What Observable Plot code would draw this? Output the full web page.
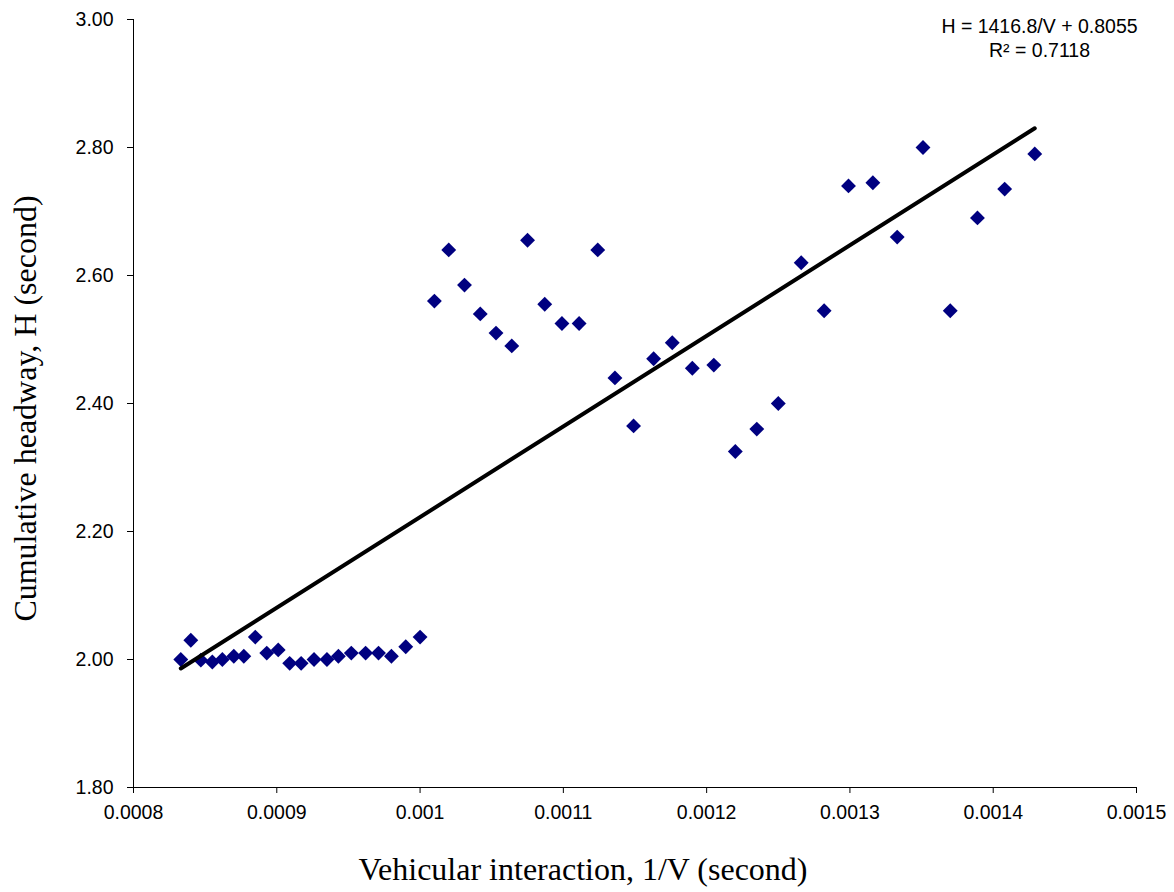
<!DOCTYPE html>
<html>
<head>
<meta charset="utf-8">
<script src="https://cdn.jsdelivr.net/npm/d3@7"></script>
<script src="https://cdn.jsdelivr.net/npm/@observablehq/plot@0.6"></script>
<style>
  html, body { margin: 0; padding: 0; background: #fff; }
  #chart svg { display: block; }
</style>
</head>
<body>
<div id="chart"></div>
<script>
// Vehicular interaction 1/V (second)
const xValues = [
  0.000833, 0.000840, 0.000847, 0.000855, 0.000862, 0.000870, 0.000877, 0.000885,
  0.000893, 0.000901, 0.000909, 0.000917, 0.000926, 0.000935, 0.000943, 0.000952,
  0.000962, 0.000971, 0.000980, 0.000990, 0.001000,
  0.001010, 0.001020, 0.001031, 0.001042, 0.001053, 0.001064, 0.001075, 0.001087,
  0.001099, 0.001111, 0.001124, 0.001136, 0.001149, 0.001163, 0.001176, 0.001190,
  0.001205, 0.001220, 0.001235, 0.001250, 0.001266, 0.001282, 0.001299, 0.001316,
  0.001333, 0.001351, 0.001370, 0.001389, 0.001408, 0.001429
];
// Cumulative headway H (second)
const hValues = [
  2.000, 2.030, 1.999, 1.996, 2.000, 2.005, 2.005, 2.035, 2.010, 2.015, 1.994,
  1.994, 2.000, 2.000, 2.005, 2.010, 2.010, 2.010, 2.005, 2.020, 2.035,
  2.560, 2.640, 2.585, 2.540, 2.510, 2.490, 2.655, 2.555, 2.525, 2.525, 2.640,
  2.440, 2.365, 2.470, 2.495, 2.455, 2.460, 2.325, 2.360, 2.400, 2.620, 2.545,
  2.740, 2.745, 2.660, 2.800, 2.545, 2.690, 2.735, 2.790
];
// Linear trendline endpoints: H = 1416.8/V + 0.8055
const trendX = [0.000833, 0.001429];
const trendH = [1.986, 2.830];

const xTicks = [0.0008, 0.0009, 0.001, 0.0011, 0.0012, 0.0013, 0.0014, 0.0015];
const xTickLabels = ["0.0008", "0.0009", "0.001", "0.0011", "0.0012", "0.0013", "0.0014", "0.0015"];
const yTicks = [1.8, 2.0, 2.2, 2.4, 2.6, 2.8, 3.0];
const yTickLabels = ["1.80", "2.00", "2.20", "2.40", "2.60", "2.80", "3.00"];

const xTitle = "Vehicular interaction, 1/V (second)";
const yTitle = "Cumulative headway, H (second)";
const eqLine1 = "H = 1416.8/V + 0.8055";
const eqLine2 = "R\u00B2 = 0.7118";

const points = xValues.map((x, i) => ({x, h: hValues[i]}));
const trend = trendX.map((x, i) => ({x, h: trendH[i]}));

const sans = "'Liberation Sans', Arial, sans-serif";
const serif = "'Liberation Serif', 'Times New Roman', serif";

const chart = Plot.plot({
  width: 1174,
  height: 892,
  marginLeft: 133,
  marginRight: 38,
  marginTop: 19,
  marginBottom: 105,
  style: {fontFamily: sans, background: "#fff", color: "#000"},
  x: {domain: [0.0008, 0.0015], axis: null},
  y: {domain: [1.8, 3.0], axis: null},
  marks: [
    Plot.axisX({
      ticks: xTicks,
      tickFormat: d => xTickLabels[xTicks.indexOf(d)],
      tickSize: 6,
      tickPadding: 11.5,
      fontSize: 19.5,
      fontFamily: sans,
      stroke: "#000",
      fill: "#000",
      label: null
    }),
    Plot.axisY({
      ticks: yTicks,
      tickFormat: d => yTickLabels[yTicks.indexOf(d)],
      tickSize: 6,
      tickPadding: 14,
      fontSize: 19.5,
      fontFamily: sans,
      stroke: "#000",
      fill: "#000",
      label: null
    }),
    Plot.ruleY([yTicks[0]], {stroke: "#000", strokeWidth: 1}),
    Plot.ruleX([xTicks[0]], {stroke: "#000", strokeWidth: 1}),
    Plot.dot(points, {x: "x", y: "h", symbol: "diamond2", r: 6.7, fill: "#000080", stroke: "none"}),
    Plot.line(trend, {x: "x", y: "h", stroke: "#000", strokeWidth: 4}),
    Plot.text([eqLine1], {frameAnchor: "top-right", dx: -97, dy: 13, textAnchor: "middle", lineAnchor: "bottom", fontSize: 19.5, fontFamily: sans, fill: "#000"}),
    Plot.text([eqLine2], {frameAnchor: "top-right", dx: -97, dy: 37, textAnchor: "middle", lineAnchor: "bottom", fontSize: 19.5, fontFamily: sans, fill: "#000"}),
    Plot.text([xTitle], {frameAnchor: "bottom", dx: -52, dy: 92, textAnchor: "middle", lineAnchor: "bottom", fontSize: 32, fontFamily: serif, fill: "#000"}),
    Plot.text([yTitle], {frameAnchor: "left", dx: -108, dy: 5, rotate: -90, textAnchor: "middle", lineAnchor: "middle", fontSize: 32, fontFamily: serif, fill: "#000"})
  ]
});
document.getElementById("chart").appendChild(chart);
</script>
</body>
</html>
